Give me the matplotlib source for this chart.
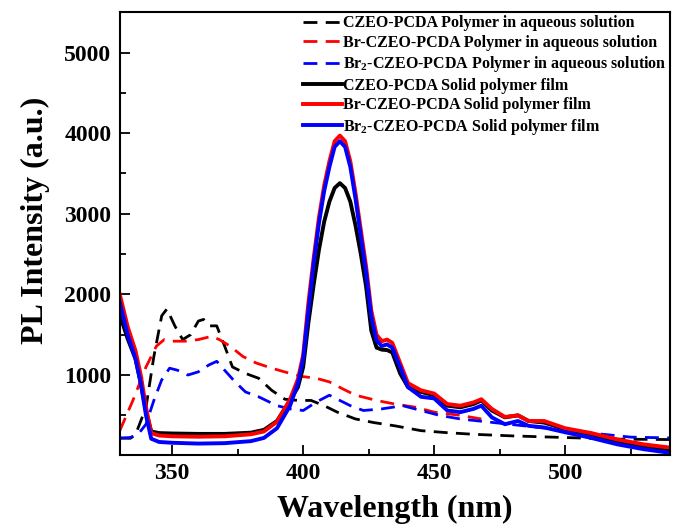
import matplotlib
matplotlib.use("Agg")
import matplotlib.pyplot as plt
import numpy as np

plt.rcParams['font.family'] = 'Liberation Serif'
plt.rcParams['font.weight'] = 'bold'
plt.rcParams['mathtext.fontset'] = 'custom'
plt.rcParams['mathtext.rm'] = 'Liberation Serif:bold'
plt.rcParams['mathtext.bf'] = 'Liberation Serif:bold'

# aqueous solution spectra (dashed)
wl_czeo_aq = [330, 334, 336, 340, 343, 346, 348, 351, 354, 357, 360, 362, 364, 367, 370, 373,
              378, 383, 388, 393, 398, 403, 408, 413, 420, 427, 435, 445, 455, 465, 480, 500,
              520, 540]
pl_czeo_aq = [220, 215, 260, 600, 1230, 1735, 1820, 1610, 1440, 1500, 1670, 1690, 1610, 1610,
              1360, 1100, 1020, 960, 810, 700, 685, 685, 620, 540, 455, 410, 370, 310, 285, 265,
              245, 225, 205, 200]

wl_br_aq = [330, 335, 340, 344, 347, 350, 355, 360, 365, 368, 372, 377, 382, 388, 395, 400, 405,
            410, 415, 420, 428, 435, 443, 450, 460, 468]
pl_br_aq = [310, 685, 1100, 1360, 1440, 1420, 1420, 1440, 1480, 1440, 1360, 1230, 1150, 1085,
            1020, 980, 960, 915, 830, 750, 685, 640, 600, 540, 500, 455]

wl_br2_aq = [330, 334, 337, 340, 343, 346, 349, 352, 356, 360, 364, 367, 370, 374, 378, 383, 390,
             395, 400, 405, 410, 414, 418, 423, 430, 438, 445, 452, 460, 470, 490, 510, 525, 540]
pl_br2_aq = [215, 225, 265, 390, 685, 940, 1085, 1060, 1000, 1040, 1125, 1170, 1060, 915, 790,
             730, 620, 580, 560, 665, 750, 685, 620, 560, 580, 620, 560, 500, 455, 420, 350, 280,
             230, 220]

# solid film spectra
wl_film = [330, 333, 336, 338, 340, 342, 345, 350, 360, 370,
           380, 385, 390, 395, 398, 400, 402, 404, 406, 408,
           410, 412, 414, 416, 418, 420, 422, 424, 426, 428,
           430, 432, 434, 437, 440, 445, 450, 455, 460, 465,
           468, 472, 477, 482, 486, 492, 500, 510, 520, 530,
           540]
pl_czeo_film = [1750, 1450, 1200, 900, 550, 300, 280, 275, 270, 270,
                285, 320, 430, 685, 850, 1100, 1650, 2120, 2550, 2900,
                3150, 3320, 3380, 3320, 3150, 2850, 2500, 2100, 1550, 1340,
                1315, 1310, 1280, 1020, 850, 790, 750, 620, 600, 640,
                685, 560, 475, 500, 430, 410, 330, 265, 180, 120,
                55]
pl_br_film = [2000, 1600, 1300, 1000, 600, 280, 250, 240, 235, 240,
              265, 300, 420, 700, 950, 1250, 1900, 2450, 2950, 3350,
              3650, 3900, 3970, 3900, 3650, 3250, 2800, 2350, 1800, 1500,
              1420, 1440, 1400, 1150, 900, 810, 770, 640, 620, 660,
              700, 580, 480, 500, 430, 430, 340, 280, 200, 140,
              100]
pl_br2_film = [1900, 1500, 1200, 900, 500, 210, 170, 160, 150, 155,
               180, 220, 340, 620, 900, 1200, 1800, 2380, 2880, 3280,
               3580, 3830, 3900, 3830, 3580, 3180, 2720, 2270, 1720, 1430,
               1360, 1380, 1340, 1100, 850, 730, 710, 560, 540, 580,
               620, 475, 390, 430, 370, 350, 290, 220, 140, 80,
               35]

labels = ['CZEO-PCDA Polymer in aqueous solution',
          'Br-CZEO-PCDA Polymer in aqueous solution',
          r'Br$_2$-CZEO-PCDA Polymer in aqueous solution',
          'CZEO-PCDA Solid polymer film',
          'Br-CZEO-PCDA Solid polymer film',
          r'Br$_2$-CZEO-PCDA Solid polymer film']

fig = plt.figure(figsize=(6.73, 5.32), dpi=100)
ax = fig.add_axes([0.178, 0.145, 0.8175, 0.832])

dash = (5, 3)
ax.plot(wl_czeo_aq, pl_czeo_aq, color='black', lw=2, dashes=dash, label=labels[0])
ax.plot(wl_br_aq, pl_br_aq, color='red', lw=2, dashes=dash, label=labels[1])
ax.plot(wl_br2_aq, pl_br2_aq, color='blue', lw=2, dashes=dash, label=labels[2])
ax.plot(wl_film, pl_czeo_film, color='black', lw=2.8, label=labels[3])
ax.plot(wl_film, pl_br_film, color='red', lw=2.8, label=labels[4])
ax.plot(wl_film, pl_br2_film, color='blue', lw=2.8, label=labels[5])

ax.set_xlim(330, 540)
ax.set_ylim(10, 5500)
ax.set_xticks([350, 400, 450, 500])
ax.set_xticks([375, 425, 475, 525], minor=True)
ax.set_yticks([1000, 2000, 3000, 4000, 5000])
ax.set_yticks([500, 1500, 2500, 3500, 4500], minor=True)
ax.tick_params(which='both', direction='in', width=1.3, labelsize=17)
ax.tick_params(which='major', length=7, pad=6)
ax.tick_params(which='minor', length=4)
for s in ax.spines.values():
    s.set_linewidth(1.5)

ax.set_xlabel('Wavelength (nm)', fontsize=23, fontweight='bold', labelpad=8)
ax.set_ylabel('PL Intensity (a.u.)', fontsize=23, fontweight='bold', labelpad=10)
ax.yaxis.label.set_y(0.53)

ax.legend(loc='upper right', bbox_to_anchor=(1.0, 1.0), frameon=False, fontsize=11.5,
          handlelength=2.4, handletextpad=0.1, labelspacing=0.22, borderaxespad=0.1,
          borderpad=0.1)

fig.savefig('out.png', dpi=100)
